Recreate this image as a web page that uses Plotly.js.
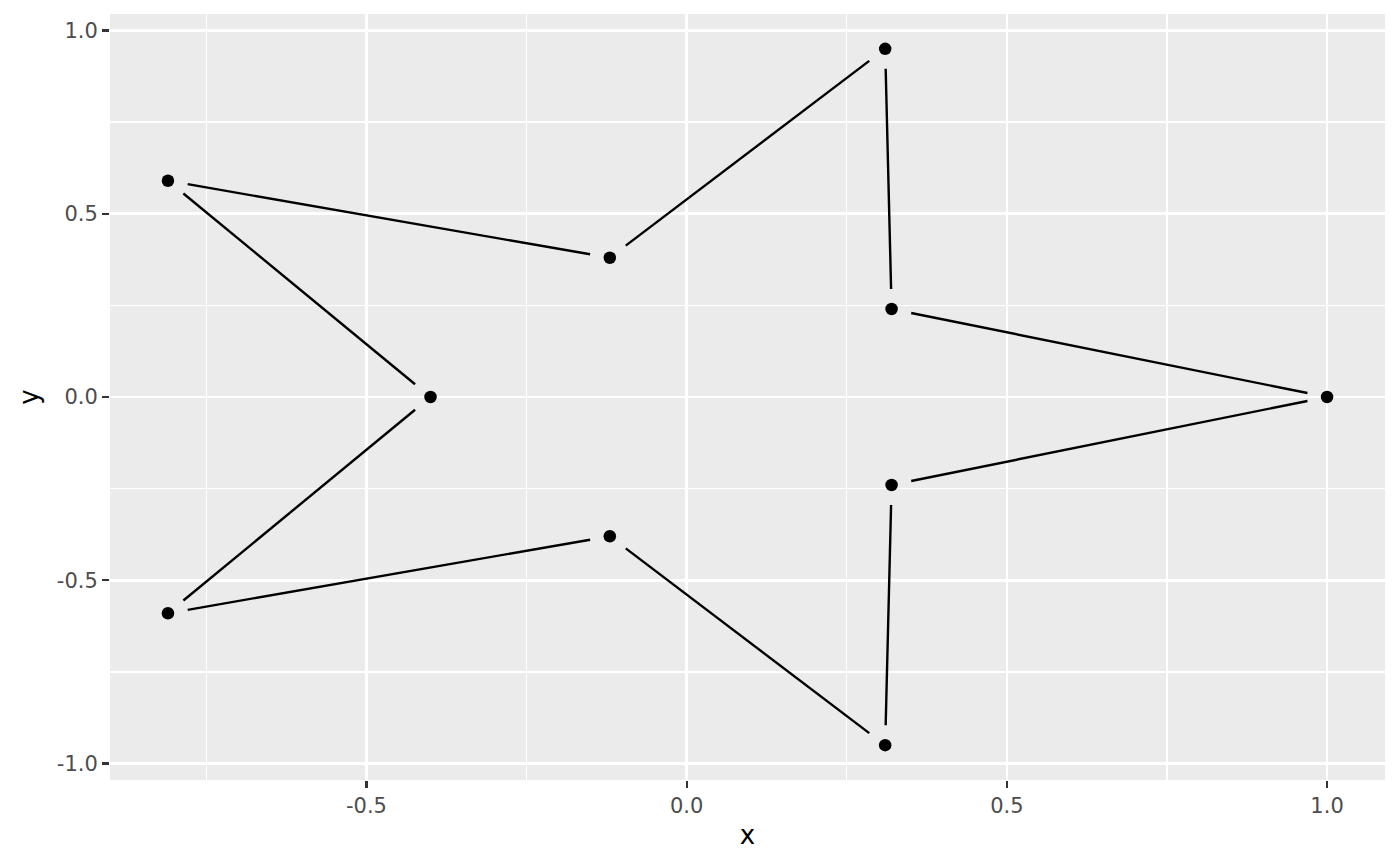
<!DOCTYPE html>
<html>
<head>
<meta charset="utf-8">
<script src="https://cdn.plot.ly/plotly-3.0.1.min.js"></script>
<style>
  html, body { margin: 0; padding: 0; background: #fff; }
  #chart { width: 1400px; height: 866px; }
</style>
</head>
<body>
<div id="chart"></div>
<script>
// star vertices, in path order
const ptX = [1.0, 0.32, 0.31, -0.12, -0.81, -0.40, -0.81, -0.12, 0.31, 0.32];
const ptY = [0.0, 0.24, 0.95, 0.38, 0.59, 0.0, -0.59, -0.38, -0.95, -0.24];

const xTicks = [-0.5, 0, 0.5, 1.0];
const xTickText = ['-0.5', '0.0', '0.5', '1.0'];
const yTicks = [-1.0, -0.5, 0, 0.5, 1.0];
const yTickText = ['-1.0', '-0.5', '0.0', '0.5', '1.0'];

const W = 1400, H = 866;
const margin = { l: 110, r: 15, t: 14, b: 86, pad: 0 };

// ggplot style 5% expansion
function expand(vals) {
    const lo = Math.min(...vals), hi = Math.max(...vals);
    const d = (hi - lo) * 0.05;
    return [lo - d, hi + d];
}
const xRange = expand(ptX);
const yRange = expand(ptY);

// pixels per data unit, used to leave a gap round each point
const pxX = (W - margin.l - margin.r) / (xRange[1] - xRange[0]);
const pxY = (H - margin.t - margin.b) / (yRange[1] - yRange[0]);
const gap = 20;

const segX = [], segY = [];
for (let i = 0; i < ptX.length; i++) {
    const j = (i + 1) % ptX.length;
    const dx = (ptX[j] - ptX[i]) * pxX;
    const dy = (ptY[j] - ptY[i]) * pxY;
    const len = Math.sqrt(dx * dx + dy * dy);
    const f = gap / len;
    segX.push(ptX[i] + (ptX[j] - ptX[i]) * f, ptX[j] - (ptX[j] - ptX[i]) * f, null);
    segY.push(ptY[i] + (ptY[j] - ptY[i]) * f, ptY[j] - (ptY[j] - ptY[i]) * f, null);
}

const lines = {
    x: segX, y: segY,
    type: 'scatter', mode: 'lines',
    line: { color: '#000', width: 2.4 },
    hoverinfo: 'skip', showlegend: false
};
const points = {
    x: ptX, y: ptY,
    type: 'scatter', mode: 'markers',
    marker: { color: '#000', size: 12.5 },
    showlegend: false
};

const tickFont = { family: 'DejaVu Sans', size: 21, color: '#4D4D4D' };
const titleFont = { family: 'DejaVu Sans', size: 26, color: '#000' };
const minorY = [-0.75, -0.25, 0.25, 0.75];
const minorX = [-0.75, -0.25, 0.25, 0.75];

const layout = {
    width: W, height: H,
    margin: margin,
    paper_bgcolor: '#fff',
    plot_bgcolor: '#EBEBEB',
    xaxis: {
        range: xRange,
        tickmode: 'array', tickvals: xTicks, ticktext: xTickText,
        ticks: 'outside', ticklen: 7, tickwidth: 2.2, tickcolor: '#333',
        tickfont: tickFont,
        showgrid: true, gridcolor: '#fff', gridwidth: 2.6,
        minor: { tickmode: 'array', tickvals: minorX, showgrid: true, gridcolor: '#fff', gridwidth: 1.3, ticklen: 0 },
        zeroline: false, showline: false,
        title: { text: 'x', font: titleFont, standoff: 8 }
    },
    yaxis: {
        range: yRange,
        tickmode: 'array', tickvals: yTicks, ticktext: yTickText,
        ticks: 'outside', ticklen: 7, tickwidth: 2.2, tickcolor: '#333',
        tickfont: tickFont,
        showgrid: true, gridcolor: '#fff', gridwidth: 2.6,
        minor: { tickmode: 'array', tickvals: minorY, showgrid: true, gridcolor: '#fff', gridwidth: 1.3, ticklen: 0 },
        zeroline: false, showline: false,
        title: { text: 'y', font: titleFont, standoff: 10 }
    }
};

Plotly.newPlot('chart', [lines, points], layout, { displayModeBar: false, staticPlot: true });
</script>
</body>
</html>
